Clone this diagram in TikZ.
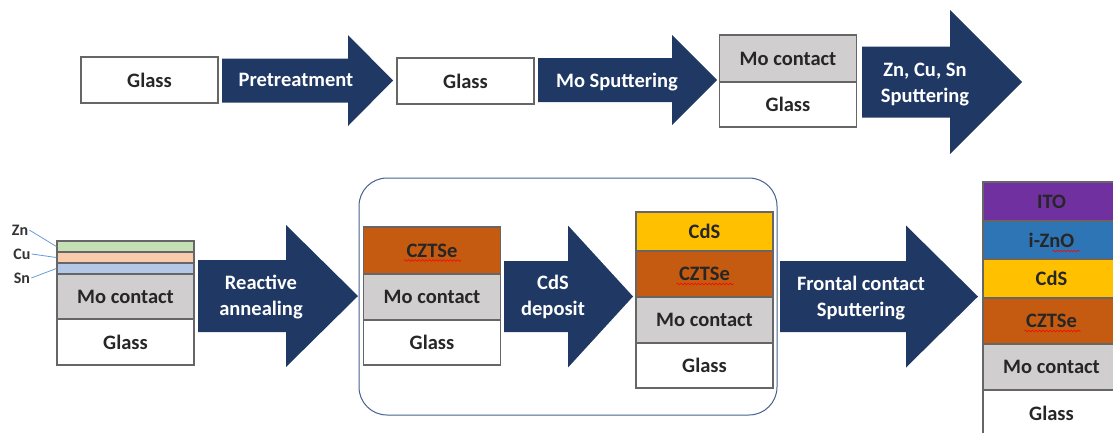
\documentclass[tikz,border=0pt]{standalone}
\usepackage{fontspec}
\setmainfont{Carlito}
\usetikzlibrary{calc,decorations.pathmorphing}

\definecolor{navy}{HTML}{1F3864}
\definecolor{mogray}{HTML}{D0CECE}
\definecolor{czts}{HTML}{C55A11}
\definecolor{cds}{HTML}{FFC000}
\definecolor{ito}{HTML}{7030A0}
\definecolor{izno}{HTML}{2E75B6}
\definecolor{znfill}{HTML}{C5E0B4}
\definecolor{cufill}{HTML}{F8CBAD}
\definecolor{snfill}{HTML}{B4C7E7}
\definecolor{boxblue}{HTML}{44628F}
\definecolor{leadblue}{HTML}{6A9BD8}

% block arrow: shaft left, head base, tip, mid y, half shaft, half head
\newcommand{\flowarrow}[6]{%
  \fill[navy] (#1,#4-#5) -- (#2,#4-#5) -- (#2,#4-#6) -- (#3,#4)
    -- (#2,#4+#6) -- (#2,#4+#5) -- (#1,#4+#5) -- cycle;}

\begin{document}
\begin{tikzpicture}[x=1pt,y=-1pt,
  film/.style={draw=black!60,line width=1.2pt,minimum width=137pt,
    minimum height=#1,inner sep=0pt,text=black!85,
    font=\bfseries\fontsize{20.5}{22}\selectfont},
  steptext/.style={text=white,align=center,
    font=\bfseries\fontsize{20.5}{26}\selectfont},
  tag/.style={inner sep=1pt,text=black!80,font=\bfseries\fontsize{16}{18}\selectfont},
  leader/.style={leadblue,line width=0.8pt},
  spell/.style={red,line width=0.6pt,decorate,
    decoration={snake,amplitude=0.9pt,segment length=3.5pt}}]
  \useasboundingbox (0,0) rectangle (1113,432);

  % top row: substrate preparation
  \node[film=46pt] (glassA) at (149.5,80) {Glass};
  \flowarrow{222}{348}{393}{80.5}{22}{45.5}
  \node[steptext] (pretreat) at (296,80) {Pretreatment};

  \node[film=46pt] (glassB) at (465.5,81) {Glass};
  \flowarrow{538}{672}{717}{80}{22}{45}
  \node[steptext] (mosput) at (617,82) {Mo Sputtering};

  \node[film=47pt,fill=mogray] (moC) at (788,58.5) {Mo contact};
  \node[film=45pt] (glassC) at (788,104.5) {Glass};
  \flowarrow{862}{950}{1022}{82}{35.5}{72}
  \node[steptext] (metsput) at (925,85) {Zn, Cu, Sn\\Sputtering};

  % bottom row: precursor stack
  \node[film=11pt,fill=znfill] (znD) at (125.5,246.5) {};
  \node[film=11pt,fill=cufill] (cuD) at (125.5,257.5) {};
  \node[film=11pt,fill=snfill] (snD) at (125.5,268.5) {};
  \node[film=45pt,fill=mogray] (moD) at (125.5,296.5) {Mo contact};
  \node[film=46pt] (glassD) at (125.5,342) {Glass};
  \node[tag] (znlab) at (20,230) {Zn};
  \node[tag] (culab) at (22,254) {Cu};
  \node[tag] (snlab) at (22,278) {Sn};
  \draw[leader] (znlab.east) -- (znD.west);
  \draw[leader] (culab.east) -- (cuD.west);
  \draw[leader] (snlab.east) -- (snD.west);

  \flowarrow{198}{286}{358}{296}{36}{71}
  \node[steptext] (anneal) at (261,297) {Reactive\\annealing};

  % absorber and buffer steps
  \draw[boxblue,line width=1pt,rounded corners=28pt] (359,178) rectangle (777,415);

  \node[film=47pt,fill=czts] (czE) at (432,250.5) {CZTSe};
  \node[film=46pt,fill=mogray] (moE) at (432,297) {Mo contact};
  \node[film=45pt] (glassE) at (432,342.5) {Glass};
  \draw[spell] ($(czE.center)+(-28,10)$) -- ++(57,0);

  \flowarrow{504}{568}{633}{296.5}{35.5}{71}
  \node[steptext] (cdsdep) at (553,297) {CdS\\deposit};

  \node[film=39pt,fill=cds] (cdsF) at (704.5,231.5) {CdS};
  \node[film=46pt,fill=czts] (czF) at (704.5,274) {CZTSe};
  \node[film=46pt,fill=mogray] (moF) at (704.5,320) {Mo contact};
  \node[film=45pt] (glassF) at (704.5,365.5) {Glass};
  \draw[spell] ($(czF.center)+(-28,10)$) -- ++(57,0);

  \flowarrow{780}{906}{978}{296.5}{35.5}{71}
  \node[steptext] (frontal) at (861,298) {Frontal contact\\Sputtering};

  % finished cell
  \node[film=39pt,fill=ito] (itoG) at (1051.5,201.5) {ITO};
  \node[film=38pt,fill=izno] (znoG) at (1051.5,240) {i-ZnO};
  \node[film=39pt,fill=cds] (cdsG) at (1051.5,278.5) {CdS};
  \node[film=46pt,fill=czts] (czG) at (1051.5,321) {CZTSe};
  \node[film=46pt,fill=mogray] (moG) at (1051.5,367) {Mo contact};
  \node[film=46pt] (glassG) at (1051.5,413) {Glass};
  \draw[spell] ($(czG.center)+(-27,10)$) -- ++(56,0);
  \draw[spell] ($(znoG.center)+(1,11)$) -- ++(27,0);
\end{tikzpicture}
\end{document}
